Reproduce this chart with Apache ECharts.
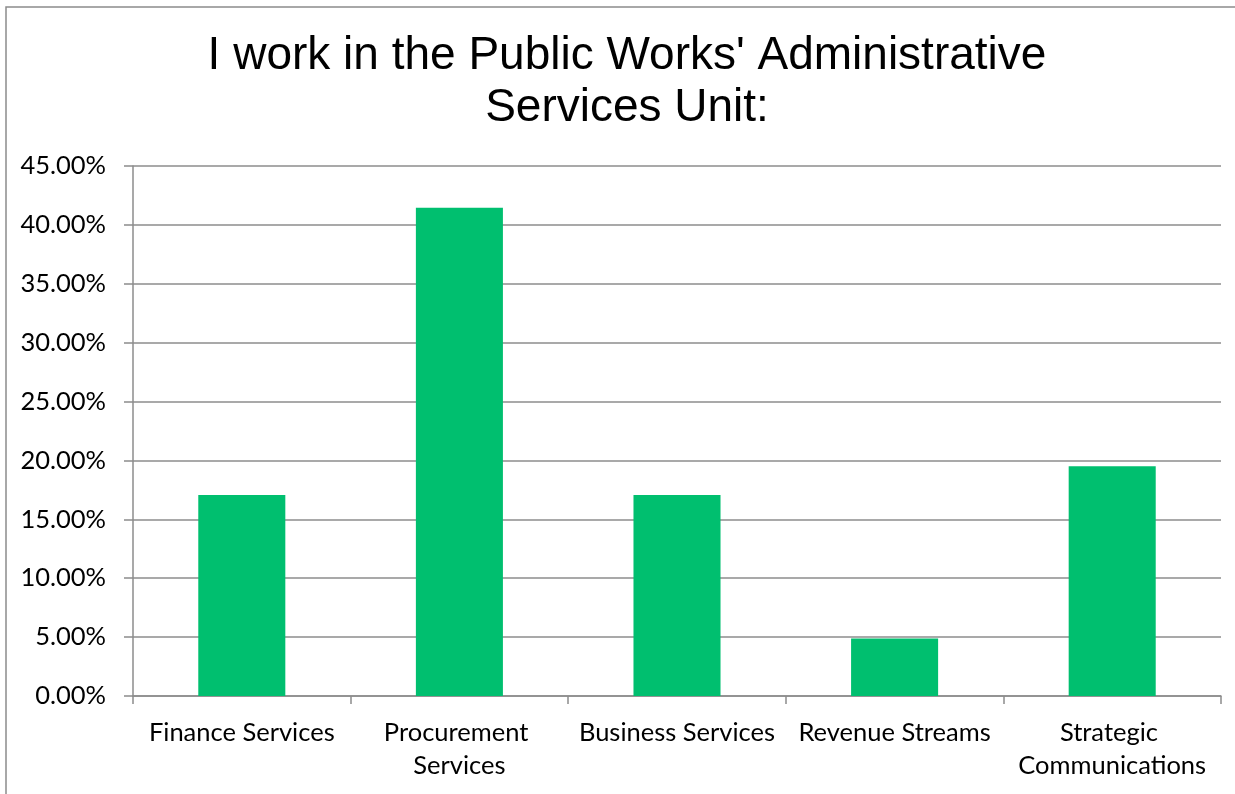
<!DOCTYPE html>
<html>
<head>
<meta charset="utf-8">
<style>
  html, body { margin: 0; padding: 0; background: #ffffff; }
  #chart { width: 1235px; height: 794px; }
</style>
<script src="https://cdn.jsdelivr.net/npm/echarts@6/dist/echarts.min.js"></script>
</head>
<body>
<div id="chart"></div>
<script>
// Survey question and answer shares (percent of respondents)
const titleText = "I work in the Public Works' Administrative\nServices Unit:";
const categories = ['Finance Services', 'Procurement Services', 'Business Services', 'Revenue Streams', 'Strategic Communications'];
const shares = [17.07, 41.46, 17.07, 4.88, 19.51];
const axisMax = 45;
const axisStep = 5;

const barColor = '#00BF6F';
const lineColor = '#8c8c8c';
const labelFont = 'Lato, "Open Sans", sans-serif';

const chart = echarts.init(document.getElementById('chart'), null, { renderer: 'canvas' });

chart.setOption({
  animation: false,
  backgroundColor: '#ffffff',
  title: {
    text: titleText,
    left: 627,
    top: 30,
    textAlign: 'center',
    padding: 0,
    textStyle: {
      fontFamily: '"Liberation Sans", Arial, sans-serif',
      fontSize: 46,
      fontWeight: 'normal',
      color: '#000000',
      lineHeight: 52
    }
  },
  graphic: [{
    // chart-area frame
    type: 'rect',
    silent: true,
    shape: { x: 6, y: 7, width: 1400, height: 1000 },
    style: { fill: 'none', stroke: lineColor, lineWidth: 1.5 }
  }],
  grid: {
    left: 133,
    right: 14,
    top: 166,
    bottom: 98,
    containLabel: false
  },
  xAxis: {
    type: 'category',
    data: categories,
    axisLine: { show: true, lineStyle: { color: lineColor, width: 1.5 } },
    axisTick: { show: true, length: 8, lineStyle: { color: lineColor, width: 1.5 } },
    axisLabel: {
      interval: 0,
      margin: 20,
      width: 212,
      overflow: 'break',
      fontFamily: labelFont,
      fontSize: 25.5,
      lineHeight: 33,
      color: '#000000'
    },
    splitLine: { show: false }
  },
  yAxis: {
    type: 'value',
    min: 0,
    max: axisMax,
    interval: axisStep,
    axisLine: { show: true, lineStyle: { color: lineColor, width: 1.5 } },
    axisTick: { show: true, length: 9, lineStyle: { color: lineColor, width: 1.5 } },
    axisLabel: {
      margin: 27,
      fontFamily: labelFont,
      fontSize: 25.5,
      color: '#000000',
      formatter: v => v.toFixed(2) + '%'
    },
    splitLine: { show: true, lineStyle: { color: lineColor, width: 1.5 } }
  },
  series: [{
    type: 'bar',
    data: shares,
    barWidth: '40%',
    itemStyle: { color: barColor },
    z: 3
  }]
});
</script>
</body>
</html>
